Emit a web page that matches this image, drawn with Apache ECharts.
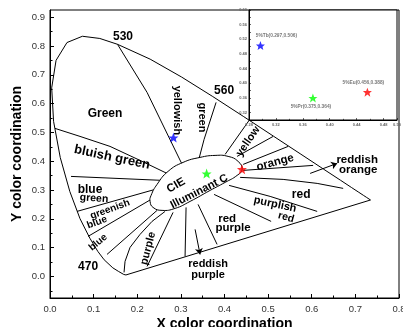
<!DOCTYPE html>
<html>
<head>
<meta charset="utf-8">
<script src="https://cdn.jsdelivr.net/npm/echarts@6/dist/echarts.min.js"></script>
<style>
  html, body { margin: 0; padding: 0; background: #fff; }
  #chart { width: 403px; height: 327px; }
</style>
</head>
<body>
<div id="chart"></div>
<script>
// CIE 1931 spectral locus (380 ... 700 nm), closed by the purple line
const locus = [
  [0.1741, 0.0050], [0.1738, 0.0049], [0.1733, 0.0048], [0.1726, 0.0048],
  [0.1714, 0.0051], [0.1689, 0.0069], [0.1644, 0.0109], [0.1566, 0.0177],
  [0.1440, 0.0297], [0.1241, 0.0578], [0.1096, 0.0868], [0.0913, 0.1327],
  [0.0687, 0.2007], [0.0454, 0.2950], [0.0235, 0.4127], [0.0082, 0.5384],
  [0.0039, 0.6548], [0.0139, 0.7502], [0.0389, 0.8120], [0.0743, 0.8338],
  [0.1142, 0.8262], [0.1547, 0.8059], [0.2296, 0.7543], [0.3016, 0.6923],
  [0.3731, 0.6245], [0.4441, 0.5547], [0.5125, 0.4866], [0.5752, 0.4242],
  [0.6270, 0.3725], [0.6658, 0.3340], [0.6915, 0.3083], [0.7079, 0.2920],
  [0.7190, 0.2809], [0.7260, 0.2740], [0.7347, 0.2653], [0.1741, 0.0050]
];

// outline of the "CIE Illuminant C" ellipse
const ellipse = [
  [0.3784, 0.4201], [0.4083, 0.4167], [0.4312, 0.3993], [0.4404, 0.3715],
  [0.4289, 0.3507], [0.4014, 0.3264], [0.3670, 0.2986], [0.3211, 0.2604],
  [0.2867, 0.2361], [0.2569, 0.2292], [0.2362, 0.2396], [0.2294, 0.2604],
  [0.2317, 0.2813], [0.2454, 0.3194], [0.2706, 0.3646], [0.3050, 0.3958],
  [0.3440, 0.4132]
];

// colour region boundaries
const regionLines = [
  [[0.1547, 0.8059], [0.2225, 0.6389], [0.3028, 0.3889]],
  [[0.3807, 0.6042], [0.3532, 0.4757], [0.3417, 0.4097]],
  [[0.4014, 0.4236], [0.4564, 0.5417]],
  [[0.4289, 0.4167], [0.5115, 0.4861]],
  [[0.4427, 0.3889], [0.5459, 0.4514]],
  [[0.4427, 0.3681], [0.6032, 0.3854]],
  [[0.4358, 0.3438], [0.5344, 0.3368], [0.6124, 0.3229], [0.6720, 0.3056]],
  [[0.4106, 0.3160], [0.5046, 0.2778], [0.6124, 0.2257]],
  [[0.3761, 0.2847], [0.5069, 0.1910]],
  [[0.3394, 0.2500], [0.3830, 0.1111]],
  [[0.3119, 0.2396], [0.3096, 0.0694]],
  [[0.2821, 0.2222], [0.2225, 0.0347]],
  [[0.2638, 0.2257], [0.2339, 0.1910], [0.2064, 0.1458], [0.1835, 0.1007], [0.1720, 0.0521], [0.1697, 0.0139]],
  [[0.2454, 0.2292], [0.1307, 0.0764]],
  [[0.2317, 0.2674], [0.0872, 0.1389]],
  [[0.2408, 0.3021], [0.0619, 0.2257]],
  [[0.2592, 0.3333], [0.0482, 0.3472]],
  [[0.2683, 0.3576], [0.2064, 0.4028], [0.1376, 0.4514], [0.0688, 0.4861], [0.0115, 0.5139]]
];

const arrows = [
  [[0.5963, 0.3576], [0.6583, 0.3924]],
  [[0.3326, 0.1632], [0.3440, 0.0764]]
];

// text in the diagram: x, y, text
const regionLabels = [
  [0.1674, 0.8333, '530'],
  [0.3990, 0.6458, '560'],
  [0.0872, 0.0347, '470'],
  [0.1261, 0.5660, 'Green'],
  [0.2913, 0.5764, 'yellowish'],
  [0.3486, 0.5521, 'green'],
  [0.1422, 0.4132, 'bluish green'],
  [0.0917, 0.3021, 'blue'],
  [0.1009, 0.2708, 'green'],
  [0.1376, 0.2326, 'greenish'],
  [0.1078, 0.1875, 'blue'],
  [0.1101, 0.1181, 'blue'],
  [0.2248, 0.0972, 'purple'],
  [0.2890, 0.3160, 'CIE'],
  [0.3417, 0.2951, 'Illuminant C'],
  [0.4541, 0.4688, 'yellow'],
  [0.5160, 0.3958, 'orange'],
  [0.7041, 0.4063, 'reddish'],
  [0.7064, 0.3715, 'orange'],
  [0.5757, 0.2847, 'red'],
  [0.5160, 0.2500, 'purplish'],
  [0.5413, 0.2049, 'red'],
  [0.4060, 0.2014, 'red'],
  [0.4197, 0.1701, 'purple'],
  [0.3624, 0.0417, 'reddish'],
  [0.3624, 0.0035, 'purple']
];
// rotation (deg, counter-clockwise) and font size of each label above
const labelRotate = [0, 0, 0, 0, -90, -90, -12, 0, -4, 20, 20, 40, 75, 30, 27, 55, 15, 0, 0, 0, -12, -15, 0, 0, 0, 0];
const labelSize = [12, 12, 12, 12, 11, 11, 13, 12, 10.5, 10, 10, 10, 11, 11.5, 11, 11, 11.5, 11.5, 11.5, 12, 11, 10.5, 11.5, 11.5, 11, 11];

// samples in the full diagram (as drawn)
const mainPoints = [[0.283, 0.482], [0.359, 0.357], [0.440, 0.372]];
const pointColors = ['#0000ff', '#00ff00', '#ff0000'];

// samples in the inset
const insetNames = ['5%Tb(0.297,0.506)', '5%Pr(0.375,0.364)', '5%Eu(0.456,0.388)'];
const insetPoints = [[0.297, 0.503], [0.375, 0.360], [0.456, 0.376]];

const mainYLabels = [0, 0.1, 0.2, 0.3, 0.4, 0.5, 0.6, 0.7, 0.8, 0.9];
const mainYMinor = [-0.05, 0.05, 0.15, 0.25, 0.35, 0.45, 0.55, 0.65, 0.75, 0.85];

const FONT = '"Liberation Sans", Arial, sans-serif';
const STAR = 'path://M12,1 L15,9 L23,9 L17,14 L19,22 L12,17 L5,22 L7,14 L1,9 L9,9 Z';

const chart = echarts.init(document.getElementById('chart'), null, { renderer: 'canvas' });

const tickLabel = { color: '#333', fontSize: 9.5, fontFamily: FONT };
const insetLabel = { color: '#666', fontSize: 4, fontFamily: FONT, fontWeight: 'bold' };

chart.setOption({
  animation: false,
  backgroundColor: '#fff',
  grid: [
    { left: 50, top: 10, right: 4, bottom: 29, show: true, borderColor: '#000', borderWidth: 1,
      backgroundColor: 'transparent', outerBoundsMode: 'none' },
    { left: 249, top: 10, width: 148, height: 110, show: true, borderColor: '#000', borderWidth: 1,
      backgroundColor: '#fff', z: 8, outerBoundsMode: 'none' }
  ],
  xAxis: [
    {
      type: 'value', gridIndex: 0, min: 0, max: 0.8, interval: 0.1,
      name: 'X color coordination', nameLocation: 'middle', nameGap: 19, nameMoveOverlap: false,
      nameTextStyle: { fontSize: 14, fontWeight: 'bold', fontFamily: FONT, color: '#000' },
      axisLine: { onZero: false, lineStyle: { color: '#000', width: 1 } },
      axisTick: { inside: true, length: 4, lineStyle: { color: '#000' } },
      minorTick: { show: true, splitNumber: 2, length: 2.5, lineStyle: { color: '#000' } },
      splitLine: { show: false },
      axisLabel: Object.assign({ margin: 6, formatter: v => v.toFixed(1) }, tickLabel)
    },
    {
      type: 'value', gridIndex: 1, min: 0.28, max: 0.50, interval: 0.04, z: 9,
      axisLine: { onZero: false, lineStyle: { color: '#000', width: 1 } },
      axisTick: { inside: true, length: 2, lineStyle: { color: '#000', width: 0.6 } },
      minorTick: { show: true, splitNumber: 2, length: 1.2, lineStyle: { color: '#000', width: 0.6 } },
      splitLine: { show: false },
      axisLabel: Object.assign({ margin: 3, formatter: v => v.toFixed(2) }, insetLabel)
    }
  ],
  yAxis: [
    {
      type: 'value', gridIndex: 0, min: -0.075, max: 0.925,
      name: 'Y color coordination', nameLocation: 'middle', nameGap: 26, nameMoveOverlap: false,
      nameTextStyle: { fontSize: 14, fontWeight: 'bold', fontFamily: FONT, color: '#000' },
      axisLine: { onZero: false, lineStyle: { color: '#000', width: 1 } },
      axisTick: { inside: true, length: 4, customValues: mainYLabels, lineStyle: { color: '#000' } },
      splitLine: { show: false },
      axisLabel: Object.assign({ margin: 5, customValues: mainYLabels, formatter: v => v.toFixed(1) }, tickLabel)
    },
    {
      type: 'value', gridIndex: 1, min: 0.30, max: 0.60, interval: 0.02, z: 9,
      axisLine: { onZero: false, lineStyle: { color: '#000', width: 1 } },
      axisTick: { inside: true, length: 2, lineStyle: { color: '#000', width: 0.6 } },
      splitLine: { show: false },
      axisLabel: Object.assign({
        margin: 2,
        formatter: v => (Math.round(v * 100) % 4 === 0 ? v.toFixed(2) : '')
      }, insetLabel)
    },
    {
      type: 'value', gridIndex: 0, min: -0.075, max: 0.925, position: 'left',
      axisLine: { show: false, onZero: false },
      axisTick: { inside: true, length: 2.5, customValues: mainYMinor, lineStyle: { color: '#000' } },
      axisLabel: { show: false },
      splitLine: { show: false }
    }
  ],
  series: [
    {
      type: 'line', xAxisIndex: 0, yAxisIndex: 0, data: locus,
      symbol: 'none', lineStyle: { color: '#000', width: 1 }, z: 3, silent: true
    },
    {
      type: 'lines', coordinateSystem: 'cartesian2d', xAxisIndex: 0, yAxisIndex: 0,
      polyline: true, data: regionLines.map(c => ({ coords: c })),
      lineStyle: { color: '#000', width: 1, opacity: 1 }, z: 3, silent: true
    },
    {
      type: 'lines', coordinateSystem: 'cartesian2d', xAxisIndex: 0, yAxisIndex: 0,
      data: arrows.map(c => ({ coords: c })),
      symbol: ['none', 'arrow'], symbolSize: 6,
      lineStyle: { color: '#000', width: 1, opacity: 1 }, z: 3, silent: true
    },
    {
      type: 'custom', xAxisIndex: 0, yAxisIndex: 0, z: 4, silent: true,
      data: [0],
      renderItem: (params, api) => ({
        type: 'polygon',
        shape: { points: ellipse.map(p => api.coord(p)), smooth: 0.5 },
        style: { fill: '#fff', stroke: '#000', lineWidth: 1 }
      })
    },
    {
      type: 'scatter', xAxisIndex: 0, yAxisIndex: 0, z: 5, symbol: STAR, symbolSize: 10,
      data: mainPoints.map((p, i) => ({ value: p, itemStyle: { color: pointColors[i] } }))
    },
    {
      type: 'custom', xAxisIndex: 0, yAxisIndex: 0, z: 6, silent: true,
      data: regionLabels.map(l => [l[0], l[1]]),
      renderItem: (params, api) => {
        const i = params.dataIndex;
        const p = api.coord([api.value(0), api.value(1)]);
        return {
          type: 'text', x: p[0], y: p[1],
          rotation: labelRotate[i] * Math.PI / 180,
          style: {
            text: regionLabels[i][2], fill: '#000',
            font: 'bold ' + labelSize[i] + 'px ' + FONT,
            align: 'center', verticalAlign: 'middle'
          }
        };
      }
    },
    {
      type: 'scatter', xAxisIndex: 1, yAxisIndex: 1, z: 10, symbol: STAR, symbolSize: 9,
      data: insetPoints.map((p, i) => ({
        value: p, name: insetNames[i],
        itemStyle: { color: pointColors[i] },
        label: { offset: [[16, -10], [-2, 9], [-4, -9]][i] }
      })),
      label: {
        show: true, position: 'inside', formatter: '{b}',
        color: '#555', fontSize: 4.8, fontWeight: 'bold', fontFamily: FONT
      }
    }
  ]
});
</script>
</body>
</html>
